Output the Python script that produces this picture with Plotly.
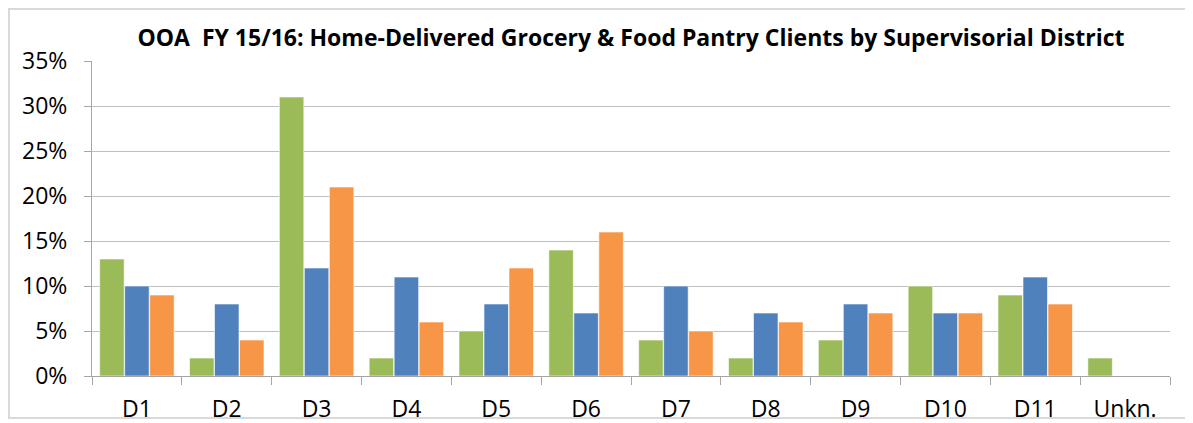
import plotly.graph_objects as go

categories = ["D1", "D2", "D3", "D4", "D5", "D6", "D7", "D8", "D9", "D10", "D11", "Unkn."]
series_green = [0.13, 0.02, 0.31, 0.02, 0.05, 0.14, 0.04, 0.02, 0.04, 0.10, 0.09, 0.02]
series_blue = [0.10, 0.08, 0.12, 0.11, 0.08, 0.07, 0.10, 0.07, 0.08, 0.07, 0.11, 0.0]
series_orange = [0.09, 0.04, 0.21, 0.06, 0.12, 0.16, 0.05, 0.06, 0.07, 0.07, 0.08, 0.0]
y_ticks = [0, 0.05, 0.10, 0.15, 0.20, 0.25, 0.30, 0.35]
y_tick_labels = ["0%", "5%", "10%", "15%", "20%", "25%", "30%", "35%"]

FONT = "'Open Sans', Lato, sans-serif"
# page body has an 8px default margin; figure sized to end at the window edges
W, H = 1185, 415
ML, MR, MT, MB = 84, 23, 53, 47

fig = go.Figure()
for name, vals, col in [("Green", series_green, "#9BBB59"),
                        ("Blue", series_blue, "#4F81BD"),
                        ("Orange", series_orange, "#F79646")]:
    fig.add_trace(go.Bar(x=categories, y=vals, name=name,
                         marker=dict(color=col, line=dict(color="rgba(255,255,255,0.6)", width=1))))

pw = W - ML - MR
ph = H - MT - MB
fig.add_shape(type="rect", xref="paper", yref="paper",
              x0=(1 - ML) / pw, x1=(W - 3 - ML) / pw,
              y0=-(H - 5 - MT - ph) / ph, y1=(MT - 1) / ph + 1,
              line=dict(color="#D9D9D9", width=2), fillcolor="rgba(0,0,0,0)", layer="below")

fig.update_layout(
    width=W, height=H,
    margin=dict(l=ML, r=MR, t=MT, b=MB, autoexpand=False),
    paper_bgcolor="white", plot_bgcolor="white",
    barmode="group", bargap=0.165, bargroupgap=0.02,
    showlegend=False,
    font=dict(family=FONT, color="#000000"),
    title=dict(text="<b>OOA  FY 15/16: Home-Delivered Grocery & Food Pantry Clients by Supervisorial District</b>",
               x=(ML + pw / 2) / W, xanchor="center", y=1 - 30 / H, yanchor="middle",
               font=dict(size=23, family=FONT, color="#000000")),
    xaxis=dict(type="category", showline=True, linecolor="#A6A6A6", linewidth=1,
               ticks="outside", tickson="boundaries", ticklen=8, tickcolor="#A6A6A6",
               tickfont=dict(size=23, family=FONT, color="#000000"), ticklabelstandoff=12,
               showgrid=False, automargin=False),
    yaxis=dict(range=[0, 0.35], tickvals=y_ticks, ticktext=y_tick_labels,
               showline=True, linecolor="#A6A6A6", linewidth=1,
               ticks="outside", ticklen=7, tickcolor="#A6A6A6",
               showgrid=True, gridcolor="#BFBFBF", gridwidth=1,
               tickfont=dict(size=23, family=FONT, color="#000000"), ticklabelstandoff=12,
               zeroline=False, automargin=False),
)

fig.write_html("out.html")
